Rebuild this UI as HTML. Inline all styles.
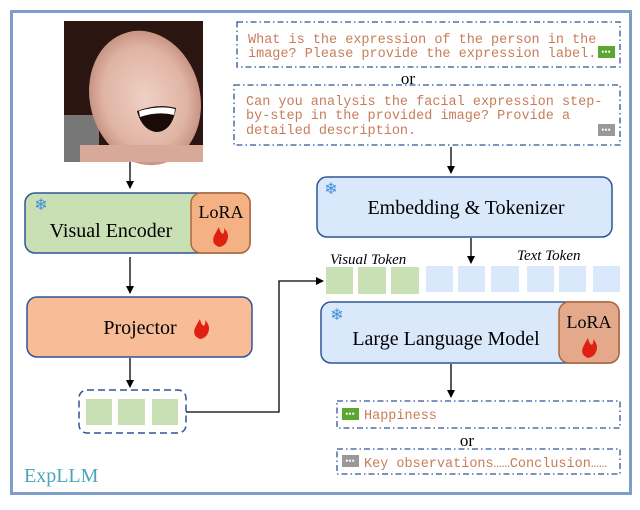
<!DOCTYPE html>
<html><head><style>
body{margin:0;background:#fff;width:640px;height:505px;overflow:hidden}
svg text{font-family:"Liberation Serif",serif}
.m{font-family:"Liberation Mono",monospace;fill:#c87d5a;font-size:13.5px}
</style></head><body>
<svg width="640" height="505" viewBox="0 0 640 505" xmlns="http://www.w3.org/2000/svg">
<defs><marker id="a" markerWidth="8" markerHeight="8" refX="7" refY="4" orient="auto" markerUnits="userSpaceOnUse"><path d="M0,0 L8,4 L0,8z" fill="#000"/></marker>
<radialGradient id="f" cx="0.5" cy="0.5" r="0.5"><stop offset="0" stop-color="#efd0c4"/><stop offset="0.75" stop-color="#e0b4a4"/><stop offset="1" stop-color="#c89484"/></radialGradient></defs>
<rect x="0" y="0" width="640" height="505" fill="#fff"/>
<rect x="11.5" y="11.5" width="619" height="482" fill="none" stroke="#7d9dcb" stroke-width="3"/>
<!-- photo -->
<rect x="64" y="21" width="139" height="141" fill="#2a1510"/>
<rect x="64" y="115" width="35" height="47" fill="#777"/>
<ellipse cx="145" cy="98" rx="55" ry="68" fill="url(#f)" transform="rotate(-15 145 98)"/>
<rect x="80" y="145" width="123" height="17" fill="#d8a898"/>
<path d="M137 111 Q158 103 176 108 Q172 132 156 132 Q142 130 137 111z" fill="#1a0a08"/>
<path d="M139 111 Q160 105 175 109 L174 115 Q158 111 140 117z" fill="#fff"/>
<!-- arrows -->
<g stroke="#000" stroke-width="1.3" fill="none" marker-end="url(#a)">
<line x1="130" y1="162" x2="130" y2="188"/>
<line x1="130" y1="257" x2="130" y2="293"/>
<line x1="130" y1="358" x2="130" y2="387"/>
<polyline points="186,412 279,412 279,281 323,281"/>
<line x1="451" y1="147" x2="451" y2="173"/>
<line x1="471" y1="238" x2="471" y2="263"/>
<line x1="451" y1="364" x2="451" y2="397"/>
</g>
<!-- visual encoder -->
<rect x="25" y="193" width="225" height="60" rx="10" fill="#c8e0b4" stroke="#2f5597" stroke-width="1.5"/>
<rect x="191" y="193" width="59" height="60" rx="10" fill="#f4b183" stroke="#b0673a" stroke-width="1.5"/>
<text x="111" y="237" font-size="20" text-anchor="middle">Visual Encoder</text>
<text x="221" y="218" font-size="18" text-anchor="middle">LoRA</text>
<text x="41" y="210" font-size="16" fill="#3f8fd8" text-anchor="middle">❄</text>
<path d="M219 247 q-8 -3 -5 -11 q2 -4 5 -9 q1 6 4 7 q2 -3 1 -6 q6 6 3 13 q-2 5 -8 6z" fill="#e02010"/>
<!-- projector -->
<rect x="27" y="297" width="225" height="60" rx="10" fill="#f8bc96" stroke="#2f5597" stroke-width="1.5"/>
<text x="140" y="334" font-size="20" text-anchor="middle">Projector</text>
<path d="M200 339 q-8 -3 -5 -11 q2 -4 5 -9 q1 6 4 7 q2 -3 1 -6 q6 6 3 13 q-2 5 -8 6z" fill="#e02010"/>
<!-- token box -->
<rect x="79" y="390" width="107" height="43" rx="8" fill="none" stroke="#2f5597" stroke-width="1.5" stroke-dasharray="7,4"/>
<rect x="86" y="399" width="26" height="26" fill="#c8e0b4"/>
<rect x="118" y="399" width="27" height="26" fill="#c8e0b4"/>
<rect x="152" y="399" width="26" height="26" fill="#c8e0b4"/>
<text x="24" y="482" font-size="20" fill="#4aa7b8" font-family="Liberation Serif">ExpLLM</text>
<!-- questions -->
<rect x="237" y="22" width="383" height="45" fill="none" stroke="#2f5597" stroke-width="1.3" stroke-dasharray="6,3,1.5,3"/>
<text class="m" x="248" y="43">What is the expression of the person in the</text>
<text class="m" x="248" y="57">image? Please provide the expression label.</text>
<rect x="598" y="46" width="17" height="12" fill="#5aa832"/><text x="606" y="55" font-size="9" fill="#fff" text-anchor="middle">•••</text>
<text x="408" y="84" font-size="17" text-anchor="middle">or</text>
<rect x="234" y="85" width="386" height="60" fill="none" stroke="#2f5597" stroke-width="1.3" stroke-dasharray="6,3,1.5,3"/>
<text class="m" x="246" y="105">Can you analysis the facial expression step-</text>
<text class="m" x="246" y="119">by-step in the provided image? Provide a</text>
<text class="m" x="246" y="134">detailed description.</text>
<rect x="598" y="124" width="17" height="12" fill="#999"/><text x="606" y="133" font-size="9" fill="#fff" text-anchor="middle">•••</text>
<!-- embedding -->
<rect x="317" y="177" width="295" height="60" rx="10" fill="#dae8fc" stroke="#2f5597" stroke-width="1.5"/>
<text x="466" y="214" font-size="20" text-anchor="middle">Embedding &amp; Tokenizer</text>
<text x="331" y="194" font-size="16" fill="#3f8fd8" text-anchor="middle">❄</text>
<!-- tokens -->
<text x="330" y="264" font-size="15" font-style="italic">Visual Token</text>
<text x="517" y="260" font-size="15" font-style="italic">Text Token</text>
<g fill="#c8e0b4"><rect x="326" y="267" width="27" height="27"/><rect x="358" y="267" width="28" height="27"/><rect x="391" y="267" width="28" height="27"/></g>
<g fill="#dae8fc"><rect x="426" y="266" width="27" height="26"/><rect x="458" y="266" width="27" height="26"/><rect x="491" y="266" width="28" height="26"/><rect x="527" y="266" width="27" height="26"/><rect x="559" y="266" width="27" height="26"/><rect x="593" y="266" width="27" height="26"/></g>
<!-- LLM -->
<rect x="321" y="302" width="298" height="61" rx="10" fill="#dae8fc" stroke="#2f5597" stroke-width="1.5"/>
<rect x="559" y="302" width="60" height="61" rx="10" fill="#e4a88a" stroke="#b0673a" stroke-width="1.5"/>
<text x="446" y="345" font-size="20" text-anchor="middle">Large Language Model</text>
<text x="589" y="328" font-size="18" text-anchor="middle">LoRA</text>
<text x="337" y="320" font-size="16" fill="#3f8fd8" text-anchor="middle">❄</text>
<path d="M588 358 q-8 -3 -5 -11 q2 -4 5 -9 q1 6 4 7 q2 -3 1 -6 q6 6 3 13 q-2 5 -8 6z" fill="#e02010"/>
<!-- outputs -->
<rect x="337" y="401" width="283" height="27" fill="none" stroke="#2f5597" stroke-width="1.3" stroke-dasharray="6,3,1.5,3"/>
<rect x="342" y="408" width="17" height="12" fill="#5aa832"/><text x="350" y="417" font-size="9" fill="#fff" text-anchor="middle">•••</text>
<text class="m" x="364" y="419">Happiness</text>
<text x="467" y="446" font-size="17" text-anchor="middle">or</text>
<rect x="337" y="449" width="283" height="25" fill="none" stroke="#2f5597" stroke-width="1.3" stroke-dasharray="6,3,1.5,3"/>
<rect x="342" y="455" width="17" height="12" fill="#999"/><text x="350" y="464" font-size="9" fill="#fff" text-anchor="middle">•••</text>
<text class="m" x="364" y="467">Key observations……Conclusion……</text>
</svg>
</body></html>
